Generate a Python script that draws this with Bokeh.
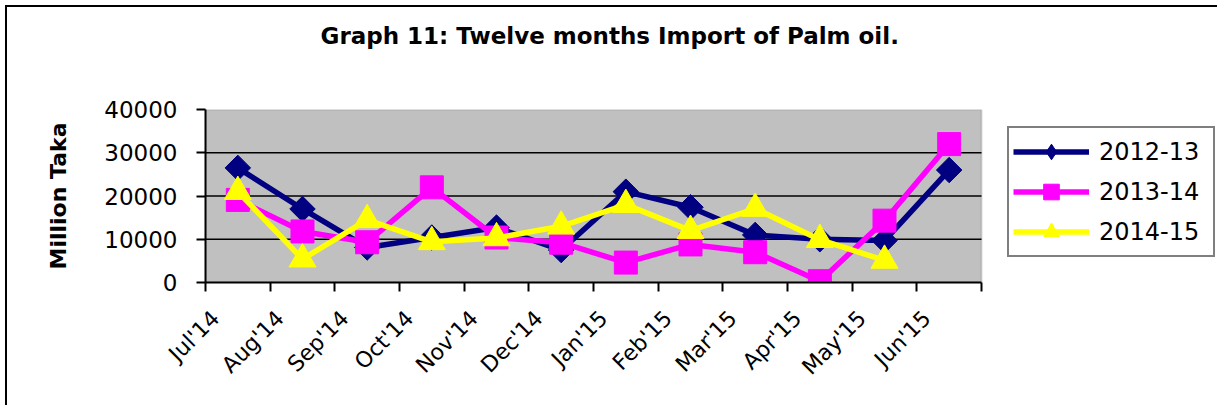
import math
from bokeh.plotting import figure
from bokeh.models import (ColumnDataSource, FixedTicker, Legend, LegendItem, BoxAnnotation,
                          Title, LinearAxis)
from bokeh.embed import file_html
from bokeh.resources import INLINE

# ---------------- data ----------------
months = ["Jul'14", "Aug'14", "Sep'14", "Oct'14", "Nov'14", "Dec'14",
          "Jan'15", "Feb'15", "Mar'15", "Apr'15", "May'15", "Jun'15"]
fy_2012_13 = [26500, 17000, 8100, 10400, 12700, 7500, 21000, 17400, 11000, 10000, 9700, 26000]
fy_2013_14 = [19100, 11800, 9300, 22000, 10400, 9200, 4600, 8800, 7000, 300, 14300, 32000]
fy_2014_15 = [21000, 5400, 14500, 9400, 10300, 13000, 18000, 12000, 17100, 9900, 5100, float("nan")]
series_names = ["2012-13", "2013-14", "2014-15"]
y_ticks = [0, 10000, 20000, 30000, 40000]
grid_ticks = [10000, 20000, 30000]
y_max = 40000
title_text = "Graph 11: Twelve months Import of Palm oil."

# ---------------- layout (pixels) ----------------
FONT = "DejaVu Sans"
W, H = 1212, 400                 # canvas (placed at page 7,7)
ORG_X, ORG_Y = 7, 7              # canvas origin on the page
PLOT_L, PLOT_T, PLOT_B = 205, 109, 282   # grey area edges on the page
PLOT_W = 776
n = len(months)
px_x = PLOT_W / n                # pixels per category
LEFT = PLOT_L - ORG_X
TOP = PLOT_T - ORG_Y
BOTTOM = ORG_Y + H - PLOT_B
x_end = (ORG_X + W - PLOT_L) / px_x
LABEL_SHIFT = 10 / px_x

x_pos = [i + 0.5 for i in range(n)]

p = figure(width=W, height=H, output_backend="svg", toolbar_location=None,
           x_range=(0, x_end), y_range=(0, y_max),
           min_border_left=LEFT, min_border_right=0, min_border_top=TOP, min_border_bottom=BOTTOM)
p.styles = {"border-top": "2px solid black", "border-left": "2px solid black",
            "margin-top": "5px", "margin-left": "5px"}

p.background_fill_color = "white"
p.border_fill_color = "white"
p.outline_line_color = None

# grey plot area
p.add_layout(BoxAnnotation(left=0, right=n, bottom=0, top=y_max, level="image",
                           fill_color="#C0C0C0", fill_alpha=1,
                           line_color="#808080", line_width=2))
# horizontal gridlines
p.segment(x0=[0] * len(grid_ticks), x1=[n] * len(grid_ticks), y0=grid_ticks, y1=grid_ticks,
          line_color="black", line_width=1.5, level="underlay")

# title: a thin spacer next to the frame, then the title itself
spacer = Title(text=" ", text_font_size="2px", standoff=56)
p.add_layout(spacer, "above")
main_title = Title(text=title_text, align="left", offset=115, vertical_align="middle",
                   text_font=FONT, text_font_size="23px", text_font_style="bold",
                   text_color="black", standoff=0)
p.add_layout(main_title, "above")

# axes
p.xaxis.ticker = FixedTicker(ticks=list(range(n + 1)))
p.xaxis.major_label_overrides = {i: "" for i in range(n + 1)}
p.xaxis.major_label_text_font_size = "1px"
p.xaxis.major_label_standoff = 0
p.xaxis.bounds = (0, n)
p.yaxis.ticker = FixedTicker(ticks=y_ticks)
p.yaxis.formatter.use_scientific = False
for ax in (p.xaxis[0], p.yaxis[0]):
    ax.axis_line_color = "black"
    ax.axis_line_width = 2
    ax.major_tick_line_color = "black"
    ax.major_tick_line_width = 2
    ax.major_tick_in = 0
    ax.major_tick_out = 9
    ax.minor_tick_line_color = None
    ax.major_label_text_font = FONT
    ax.major_label_text_color = "black"
p.yaxis.major_label_text_font_size = "23px"
p.yaxis.major_label_standoff = 19
p.yaxis.axis_label = "Million Taka"
p.yaxis.axis_label_text_font = FONT
p.yaxis.axis_label_text_font_size = "22px"
p.yaxis.axis_label_text_font_style = "bold"
p.yaxis.axis_label_text_color = "black"
p.yaxis.axis_label_standoff = 30
p.xgrid.grid_line_color = None
p.ygrid.grid_line_color = None

# month labels (rotated)
label_ticks = [i + LABEL_SHIFT for i in range(n)]
lab_axis = LinearAxis(ticker=FixedTicker(ticks=label_ticks),
                      major_label_overrides={tk: m for tk, m in zip(label_ticks, months)},
                      major_label_orientation=math.pi / 4,
                      axis_line_color=None, major_tick_line_color=None, minor_tick_line_color=None,
                      major_tick_in=0, major_tick_out=0, major_label_standoff=23,
                      major_label_text_font=FONT, major_label_text_font_size="22px",
                      major_label_text_color="black")
p.add_layout(lab_axis, "below")

styles = [
    dict(color="#000080", marker="square", size=18, angle=math.pi / 4),
    dict(color="#FF00FF", marker="square", size=23, angle=0),
    dict(color="#FFFF00", marker="triangle", size=27, angle=0),
]

items = []
for name, vals, st in zip(series_names, [fy_2012_13, fy_2013_14, fy_2014_15], styles):
    src = ColumnDataSource(dict(x=x_pos, y=vals))
    lr = p.line("x", "y", source=src, line_color=st["color"], line_width=5.5)
    sr = p.scatter("x", "y", source=src, marker=st["marker"], size=st["size"], angle=st["angle"],
                   fill_color=st["color"], line_color=st["color"])
    if st["angle"]:
        # legend-only marker showing the diamond shape (nothing is drawn in the plot)
        sr = p.scatter(x=[float("nan")], y=[float("nan")], marker="diamond", size=st["size"] * 1.4,
                       fill_color=st["color"], line_color=st["color"])
    items.append(LegendItem(label=name, renderers=[lr, sr]))

legend = Legend(items=items, location=(1007 - PLOT_L, PLOT_B - 257), orientation="vertical",
                border_line_color="black", border_line_width=2,
                background_fill_color="white", background_fill_alpha=1,
                label_text_font=FONT, label_text_font_size="24px", label_text_color="black",
                glyph_width=76, glyph_height=39, label_height=39, label_width=110,
                label_standoff=10, spacing=1, padding=4, margin=0)
p.add_layout(legend, "center")

open("out.html", "w").write(file_html(p, INLINE))
